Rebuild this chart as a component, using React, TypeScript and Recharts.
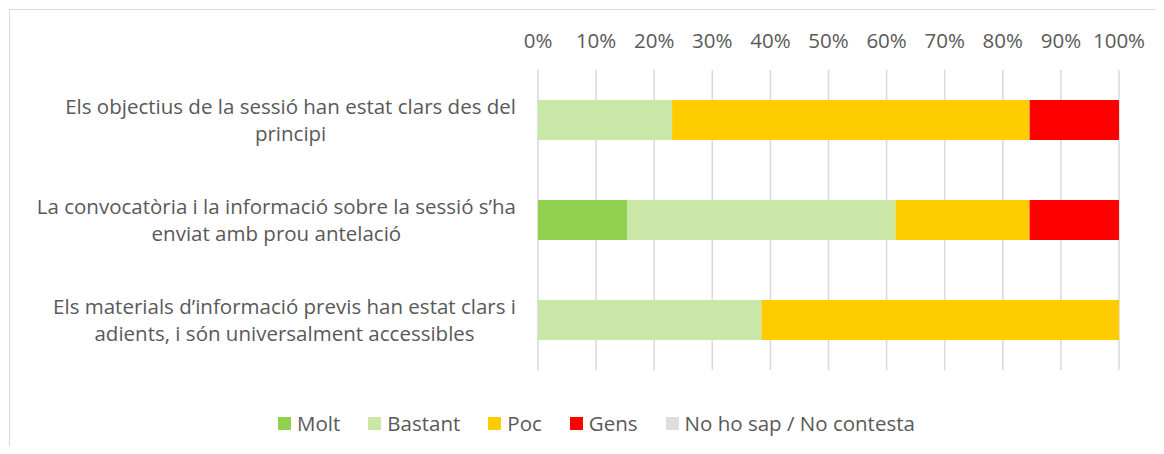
import React from 'react';
import { BarChart, Bar, XAxis, YAxis, CartesianGrid, Legend } from 'recharts';

const categories = [
  'Els objectius de la sessió han estat clars des del principi',
  'La convocatòria i la informació sobre la sessió s’ha enviat amb prou antelació',
  'Els materials d’informació previs han estat clars i adients, i són universalment accessibles',
];
const categoryLines = [
  ['Els objectius de la sessió han estat clars des del', 'principi'],
  ['La convocatòria i la informació sobre la sessió s’ha', 'enviat amb prou antelació'],
  ['Els materials d’informació previs han estat clars i', 'adients, i són universalment accessibles'],
];
const molt = [0, 15.38, 0];
const bastant = [23.08, 46.15, 38.46];
const poc = [61.54, 23.08, 61.54];
const gens = [15.38, 15.38, 0];
const noSap = [0, 0, 0];
const xTicks = [0, 10, 20, 30, 40, 50, 60, 70, 80, 90, 100];

const seriesNames = ['Molt', 'Bastant', 'Poc', 'Gens', 'No ho sap / No contesta'];
const seriesKeys = ['molt', 'bastant', 'poc', 'gens', 'noSap'];
const seriesColors = ['#92D050', '#C9E7A7', '#FFCC00', '#FF0000', '#DDDDDD'];

const data = categories.map((name, i) => ({
  name,
  molt: molt[i],
  bastant: bastant[i],
  poc: poc[i],
  gens: gens[i],
  noSap: noSap[i],
}));

const FONT = '"Open Sans", sans-serif';
const TEXT = '#595959';
const LABEL_SIZE = 20.5;

let canvasCtx: CanvasRenderingContext2D | null = null;
function measure(text: string, size: number): number {
  if (!canvasCtx) {
    const c = document.createElement('canvas');
    canvasCtx = c.getContext('2d');
  }
  if (!canvasCtx) return text.length * size * 0.5;
  canvasCtx.font = `${size}px "Open Sans"`;
  return canvasCtx.measureText(text).width;
}

const YTick = (props: any) => {
  const { x, y, index } = props;
  const lines = categoryLines[index] || [String(props.payload?.value)];
  const widths = lines.map((l) => measure(l, LABEL_SIZE));
  const maxW = Math.max(...widths);
  const right = x - 14;
  const cx = right - maxW / 2;
  const lh = 27;
  const startY = y - ((lines.length - 1) * lh) / 2;
  return (
    <g>
      {lines.map((l, i) => (
        <text
          key={i}
          x={cx}
          y={startY + i * lh}
          dy="0.35em"
          textAnchor="middle"
          fill={TEXT}
          fontSize={LABEL_SIZE}
          fontFamily={FONT}
        >
          {l}
        </text>
      ))}
    </g>
  );
};

const LegendContent = () => (
  <div
    style={{
      height: 84,
      boxSizing: 'border-box',
      paddingTop: 40,
      paddingLeft: 74,
      display: 'flex',
      justifyContent: 'center',
      alignItems: 'flex-start',
      fontFamily: FONT,
      fontSize: LABEL_SIZE,
      color: TEXT,
      lineHeight: '26px',
    }}
  >
    {seriesNames.map((n, i) => (
      <div key={n} style={{ display: 'flex', alignItems: 'center', marginRight: i < seriesNames.length - 1 ? 28 : 0, height: 26 }}>
        <span style={{ display: 'inline-block', width: 13, height: 13, background: seriesColors[i], marginRight: 6 }} />
        <span>{n}</span>
      </div>
    ))}
  </div>
);

export default function App() {
  return (
    <div style={{ position: 'relative', width: 1164, height: 454, margin: -8, overflow: 'hidden', background: '#fff' }}>
      <div
        style={{
          position: 'absolute',
          left: 9,
          top: 9,
          width: 1200,
          height: 500,
          border: '1px solid #D9D9D9',
          boxSizing: 'border-box',
        }}
      />
      <div style={{ position: 'absolute', left: 0, top: 0 }}>
        <BarChart
          width={1164}
          height={454}
          data={data}
          layout="vertical"
          margin={{ top: 0, right: 45, bottom: 0, left: 0 }}
          barCategoryGap={30}
        >
          <CartesianGrid horizontal={false} vertical stroke="#D9D9D9" strokeWidth={1.5} />
          <XAxis
            type="number"
            orientation="top"
            domain={[0, 100]}
            ticks={xTicks}
            height={70}
            tickFormatter={(v: number) => `${v}%`}
            axisLine={false}
            tickLine={false}
            tickMargin={16}
            interval={0}
            tick={{ fill: TEXT, fontSize: LABEL_SIZE, fontFamily: FONT }}
          />
          <YAxis
            type="category"
            dataKey="name"
            width={538}
            axisLine={false}
            tickLine={false}
            tick={<YTick />}
            interval={0}
          />
          <Legend verticalAlign="bottom" content={<LegendContent />} />
          {seriesKeys.map((k, i) => (
            <Bar
              key={k}
              dataKey={k}
              name={seriesNames[i]}
              stackId="a"
              fill={seriesColors[i]}
              barSize={40}
              isAnimationActive={false}
            />
          ))}
        </BarChart>
      </div>
    </div>
  );
}
